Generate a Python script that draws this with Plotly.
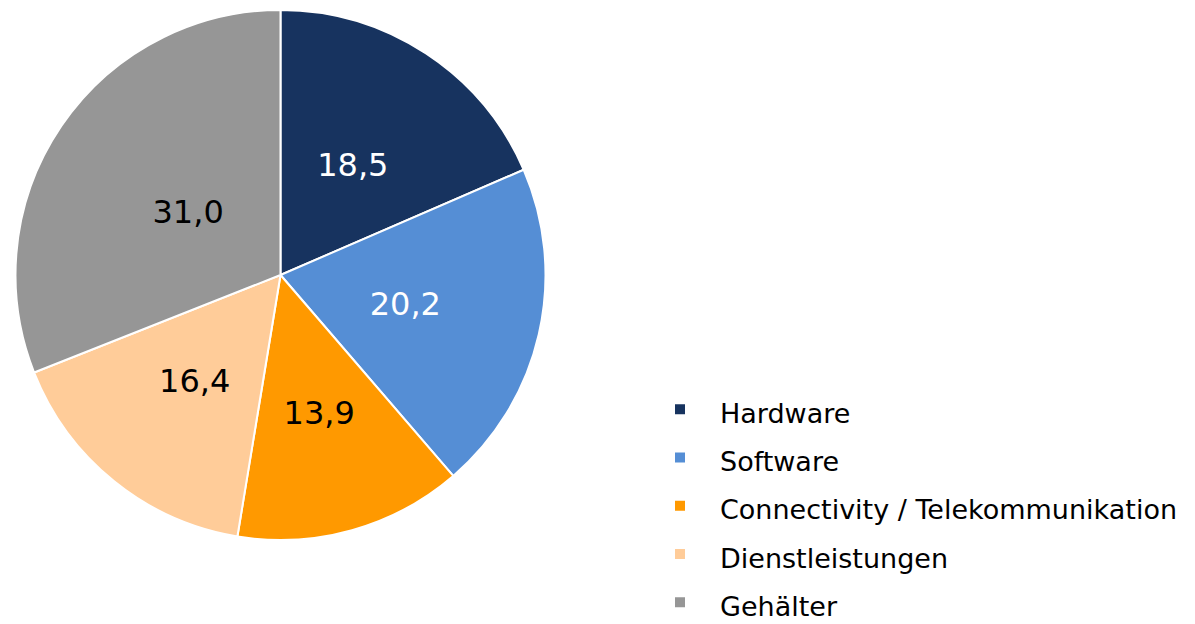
import plotly.graph_objects as go

categories = ["Hardware", "Software", "Connectivity / Telekommunikation", "Dienstleistungen", "Gehälter"]
values = [18.5, 20.2, 13.9, 16.4, 31.0]
colors = ["#17335F", "#558ED5", "#FF9900", "#FFCC99", "#969696"]
text_colors = ["white", "white", "black", "black", "black"]

W, H = 1195, 624
FONT = "Verdana, DejaVu Sans, sans-serif"
legend_labels = ["<span style='font-size:27px'>%s</span>" % c for c in categories]

# pie geometry (figure pixels)
cx, cy, R = 272.5, 267, 265
k = 0.77  # inner helper pie that carries the value labels

fig = go.Figure()
fig.add_trace(go.Pie(
    labels=legend_labels,
    values=values,
    sort=False,
    direction="clockwise",
    rotation=0,
    marker=dict(colors=colors, line=dict(color="white", width=2)),
    textinfo="none",
    hoverinfo="label+value",
    domain=dict(x=[(cx - R) / W, (cx + R) / W], y=[(H - cy - R) / H, (H - cy + R) / H]),
))
r2 = R * k
fig.add_trace(go.Pie(
    labels=legend_labels,
    values=values,
    sort=False,
    direction="clockwise",
    rotation=0,
    showlegend=False,
    marker=dict(colors=["rgba(0,0,0,0)"] * len(values), line=dict(width=0)),
    texttemplate="%{value:.1f}",
    textposition="inside",
    insidetextorientation="horizontal",
    insidetextfont=dict(color=text_colors, size=32, family=FONT),
    hoverinfo="skip",
    domain=dict(x=[(cx - r2) / W, (cx + r2) / W], y=[(H - cy - r2) / H, (H - cy + r2) / H]),
))

fig.update_layout(
    width=W, height=H,
    separators=",.",
    margin=dict(l=0, r=0, t=0, b=0, autoexpand=False),
    paper_bgcolor="white",
    plot_bgcolor="white",
    font=dict(family=FONT, color="black"),
    legend=dict(
        x=632 / W, xanchor="left",
        y=0.4035, yanchor="top",
        font=dict(size=34.8, color="black"),
        itemwidth=70,
        bgcolor="rgba(0,0,0,0)",
        traceorder="normal",
    ),
    showlegend=True,
)

fig.write_html("out.html")
